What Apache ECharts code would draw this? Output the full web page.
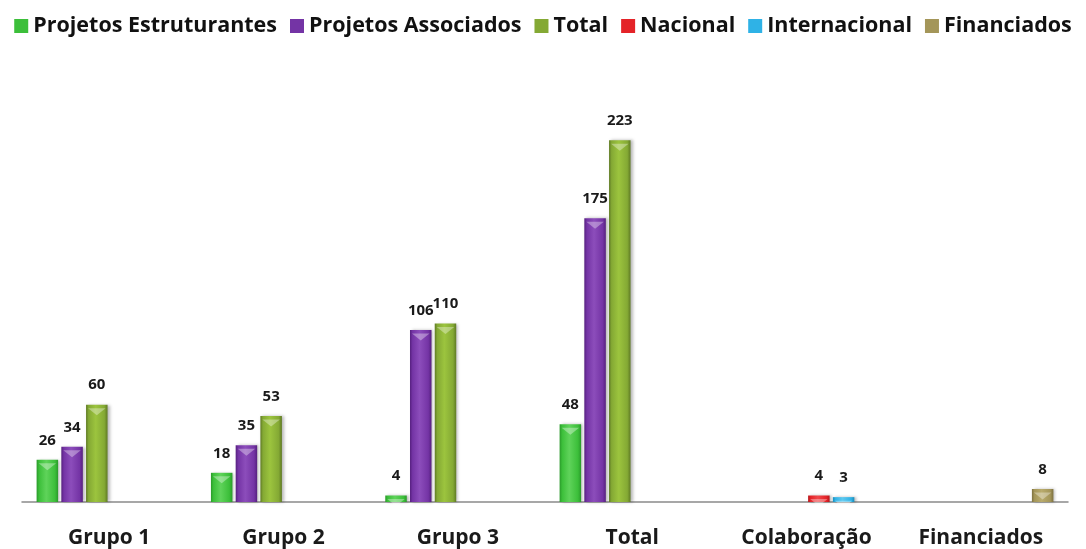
<!DOCTYPE html>
<html>
<head>
<meta charset="utf-8">
<script src="https://cdn.jsdelivr.net/npm/echarts@6/dist/echarts.min.js"></script>
<style>
  html, body { margin: 0; padding: 0; background: #fff; }
  #chart { width: 1086px; height: 549px; }
</style>
</head>
<body>
<div id="chart"></div>
<script>
// Categories along the x axis
const categories = ['Grupo 1', 'Grupo 2', 'Grupo 3', 'Total', 'Colaboração', 'Financiados'];

// Series values per category ('-' = no bar in that slot)
const estruturantes = [26, 18, 4, 48, '-', '-'];
const associados    = [34, 35, 106, 175, '-', '-'];
const totais        = [60, 53, 110, 223, '-', '-'];
const nacional      = ['-', '-', '-', '-', 4, '-'];
const internacional = ['-', '-', '-', '-', 3, '-'];
const financiados   = ['-', '-', '-', '-', '-', 8];

const seriesDefs = [
  { name: 'Projetos Estruturantes', data: estruturantes, light: '#5fd35a', mid: '#3cbf3a', dark: '#2a9a2a' },
  { name: 'Projetos Associados',    data: associados,    light: '#8c4dbb', mid: '#7434a5', dark: '#56207f' },
  { name: 'Total',                  data: totais,        light: '#9cc43e', mid: '#84a934', dark: '#5f7a24' },
  { name: 'Nacional',               data: nacional,      light: '#f0474a', mid: '#e42328', dark: '#b5161b' },
  { name: 'Internacional',          data: internacional, light: '#5cc8f0', mid: '#2fb2e6', dark: '#1b8bb8' },
  { name: 'Financiados',            data: financiados,   light: '#b9ab6c', mid: '#a49659', dark: '#7d7140' }
];

const BAR_W = 21.5;
const BAR_GAP = '15%';
const FONT = '"Open Sans", Lato, sans-serif';

function barFill(d) {
  // horizontal shading: darker rims, lighter body
  return new echarts.graphic.LinearGradient(0, 0, 1, 0, [
    { offset: 0, color: d.dark },
    { offset: 0.12, color: d.mid },
    { offset: 0.45, color: d.light },
    { offset: 0.85, color: d.mid },
    { offset: 1, color: d.dark }
  ]);
}

const series = [];
seriesDefs.forEach(d => {
  series.push({
    name: d.name,
    type: 'bar',
    data: d.data,
    barWidth: BAR_W,
    barGap: BAR_GAP,
    itemStyle: {
      color: barFill(d),
      shadowColor: 'rgba(0,0,0,0.28)',
      shadowBlur: 3,
      shadowOffsetX: 2,
      shadowOffsetY: 0
    },
    label: {
      show: true,
      position: 'top',
      distance: 12,
      fontFamily: FONT,
      fontWeight: 'bold',
      fontSize: 15,
      color: '#1a1a1a'
    },
    z: 2
  });
});
// light bevelled cap on top of each bar
seriesDefs.forEach(d => {
  series.push({
    name: d.name,
    type: 'pictorialBar',
    data: d.data,
    barWidth: BAR_W,
    barGap: BAR_GAP,
    symbol: 'path://M0,0 L20,0 L10,7 Z',
    symbolSize: [BAR_W - 4, 7],
    symbolPosition: 'end',
    symbolOffset: [0, '50%'],
    itemStyle: { color: 'rgba(255,255,255,0.35)' },
    silent: true,
    z: 3
  });
});

const chart = echarts.init(document.getElementById('chart'), null, { renderer: 'canvas' });
chart.setOption({
  animation: false,
  backgroundColor: '#ffffff',
  legend: {
    data: seriesDefs.map(d => ({
      name: d.name,
      icon: 'rect',
      itemStyle: { color: d.mid }
    })),
    top: 10,
    left: 'center',
    itemWidth: 14,
    itemHeight: 14,
    itemGap: 13,
    textStyle: { fontFamily: FONT, fontWeight: 'bold', fontSize: 21.5, color: '#111' }
  },
  grid: { left: 22, right: 18, top: 96.5, bottom: 46.5, containLabel: false },
  xAxis: {
    type: 'category',
    data: categories,
    axisLine: { lineStyle: { color: '#8a8a8a', width: 1.5 } },
    axisTick: { show: false },
    axisLabel: {
      margin: 26,
      fontFamily: FONT,
      fontWeight: 'bold',
      fontSize: 21,
      color: '#1a1a1a'
    }
  },
  yAxis: {
    type: 'value',
    min: 0,
    max: 250,
    show: false,
    splitLine: { show: false }
  },
  series: series
});
</script>
</body>
</html>
